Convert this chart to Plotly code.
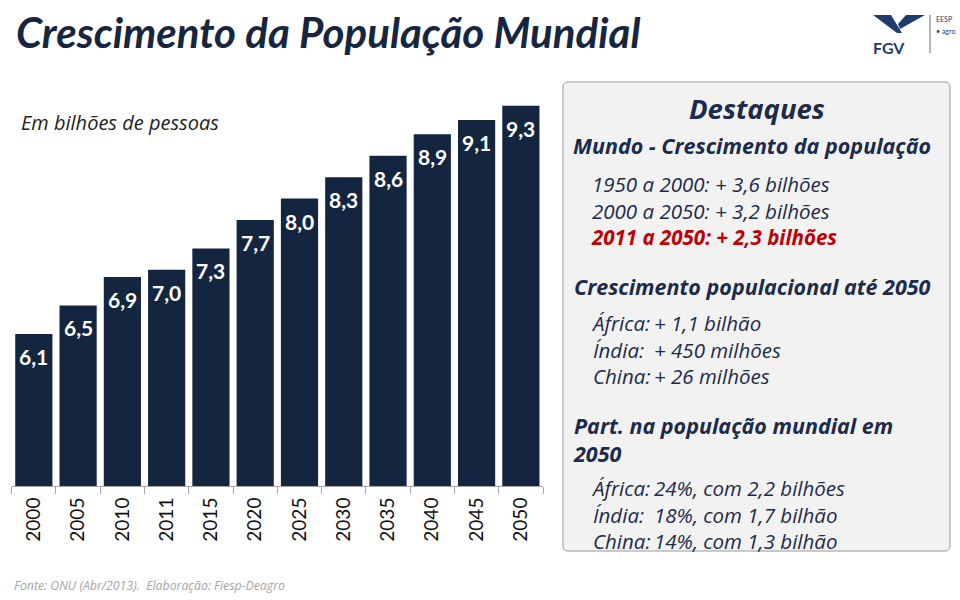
import plotly.graph_objects as go

# ---------------- data ----------------
years = ["2000", "2005", "2010", "2011", "2015", "2020", "2025", "2030",
         "2035", "2040", "2045", "2050"]
population = [6.1, 6.5, 6.9, 7.0, 7.3, 7.7, 8.0, 8.3, 8.6, 8.9, 9.1, 9.3]
value_labels = ["6,1", "6,5", "6,9", "7,0", "7,3", "7,7", "8,0", "8,3",
                "8,6", "8,9", "9,1", "9,3"]

title_text = "Crescimento da População Mundial"
unit_text = "Em bilhões de pessoas"
source_text = "Fonte: ONU (Abr/2013).  Elaboração: Fiesp-Deagro"

panel_title = "Destaques"
mundo_header = "Mundo - Crescimento da população"
mundo_lines = ["1950 a 2000: + 3,6 bilhões", "2000 a 2050: + 3,2 bilhões"]
mundo_highlight = "2011 a 2050: + 2,3 bilhões"
cresc_header = "Crescimento populacional até 2050"
regions = ["África:", "Índia:", "China:"]
cresc_values = ["+ 1,1 bilhão", "+ 450 milhões", "+ 26 milhões"]
part_header = ["Part. na população mundial em", "2050"]
part_values = ["24%, com 2,2 bilhões", "18%, com 1,7 bilhão", "14%, com 1,3 bilhão"]

# ---------------- styling ----------------
W, H = 960, 600
NAVY = "#14263f"
TEXT = "#1c2b4a"
RED = "#c00000"
LOGO = "#1f3b6e"


def px(x):
    return x / W


def py(y):
    return 1 - y / H


fig = go.Figure()
fig.add_trace(go.Bar(
    x=years, y=population,
    marker=dict(color=NAVY, line=dict(width=0)),
    hoverinfo="skip",
))

annotations = []
# value labels inside the top of each bar (category axis -> index positions)
for i, (v, lab) in enumerate(zip(population, value_labels)):
    annotations.append(dict(
        x=i, y=v, xref="x", yref="y", text=lab, showarrow=False,
        yanchor="top", xanchor="center", yshift=-8,
        font=dict(family="Lato", size=21, color="white", weight="bold"),
    ))


def txt(x, y, text, size, color=TEXT, bold=False, italic=True, family="Open Sans",
        xanchor="left", yanchor="middle"):
    annotations.append(dict(
        x=px(x), y=py(y), xref="paper", yref="paper", text=text, showarrow=False,
        xanchor=xanchor, yanchor=yanchor, align="left",
        font=dict(family=family, size=size, color=color,
                  weight="bold" if bold else "normal",
                  style="italic" if italic else "normal"),
    ))


# title, unit, source
txt(14, 32, title_text, 42, color="#172640", bold=True, family="Lato")
txt(19, 122, unit_text, 20, color="#222222")
txt(12, 585, source_text, 12.3, color="#a6a6a6")

# panel
BODY = 20.5
HEAD = 21.5
VALX = 652
txt(757, 109, panel_title, 27.5, bold=True, xanchor="center")
txt(571, 145, mundo_header, HEAD, bold=True)
mundo_block = "<br>".join(mundo_lines + [
    f"<span style='color:{RED}'><b>{mundo_highlight}</b></span>"])
txt(589, 210, mundo_block, BODY)
txt(572, 286, cresc_header, HEAD, bold=True)
txt(589, 349, "<br>".join(regions), BODY)
txt(VALX, 349, "<br>".join(cresc_values), BODY)
txt(571, 439, "<br>".join(part_header), HEAD, bold=True)
txt(589, 514, "<br>".join(regions), BODY)
txt(VALX, 514, "<br>".join(part_values), BODY)

# logo texts
txt(889, 47, "FGV", 16, color=LOGO, bold=True, italic=False, family="Lato",
    xanchor="center")
txt(934, 19, "EESP", 7, color=LOGO, italic=False, family="Lato")
txt(934, 31, "• agro", 7, color=LOGO, italic=False, family="Lato")


def path_px(points):
    return "M " + " L ".join(f"{px(x):.5f},{py(y):.5f}" for x, y in points) + " Z"


def rounded_rect(x0, y0, x1, y1, r):
    return (f"M {px(x0 + r)},{py(y0)} L {px(x1 - r)},{py(y0)} "
            f"Q {px(x1)},{py(y0)} {px(x1)},{py(y0 + r)} "
            f"L {px(x1)},{py(y1 - r)} Q {px(x1)},{py(y1)} {px(x1 - r)},{py(y1)} "
            f"L {px(x0 + r)},{py(y1)} Q {px(x0)},{py(y1)} {px(x0)},{py(y1 - r)} "
            f"L {px(x0)},{py(y0 + r)} Q {px(x0)},{py(y0)} {px(x0 + r)},{py(y0)} Z")


shapes = [
    dict(type="path", xref="paper", yref="paper", layer="below",
         path=rounded_rect(563, 82, 950, 551, 5),
         fillcolor="#f2f2f2", line=dict(color="#9a9a9a", width=1)),
    dict(type="path", xref="paper", yref="paper",
         path=path_px([(873, 15), (891, 15), (902, 33), (897, 33)]),
         fillcolor=LOGO, line=dict(width=0)),
    dict(type="path", xref="paper", yref="paper",
         path=path_px([(906, 15), (925, 15), (900, 29), (898, 24)]),
         fillcolor=LOGO, line=dict(width=0)),
    dict(type="line", xref="paper", yref="paper",
         x0=px(930), x1=px(930), y0=py(15), y1=py(53),
         line=dict(color="#6b6b6b", width=1)),
]

Y0, Y1 = 3.968, 9.4
fig.update_layout(
    width=W, height=H, autosize=False,
    margin=dict(l=0, r=0, t=0, b=0, pad=0),
    paper_bgcolor="white", plot_bgcolor="white",
    showlegend=False, bargap=0.16,
    xaxis=dict(domain=[px(11.7), px(543)], type="category",
               categoryorder="array", categoryarray=years,
               range=[-0.5, len(years) - 0.5], autorange=False,
               automargin=False,
               showline=True, linecolor="#a6a6a6", linewidth=1,
               ticks="outside", tickson="boundaries", ticklen=7,
               tickcolor="#a6a6a6", tickangle=-90, ticklabelstandoff=3,
               tickfont=dict(family="Lato", size=19, color="#111111"),
               showgrid=False, zeroline=False, fixedrange=True),
    yaxis=dict(domain=[py(486), py(486 - (Y1 - Y0) * 71.3)], range=[Y0, Y1],
               autorange=False, automargin=False,
               visible=False, showgrid=False, zeroline=False, fixedrange=True),
    annotations=annotations,
    shapes=shapes,
)

fig.write_html("out.html",
               config={"displayModeBar": False, "staticPlot": True},
               post_script="document.body.style.margin='0px';"
                           "document.body.style.padding='0px';")
